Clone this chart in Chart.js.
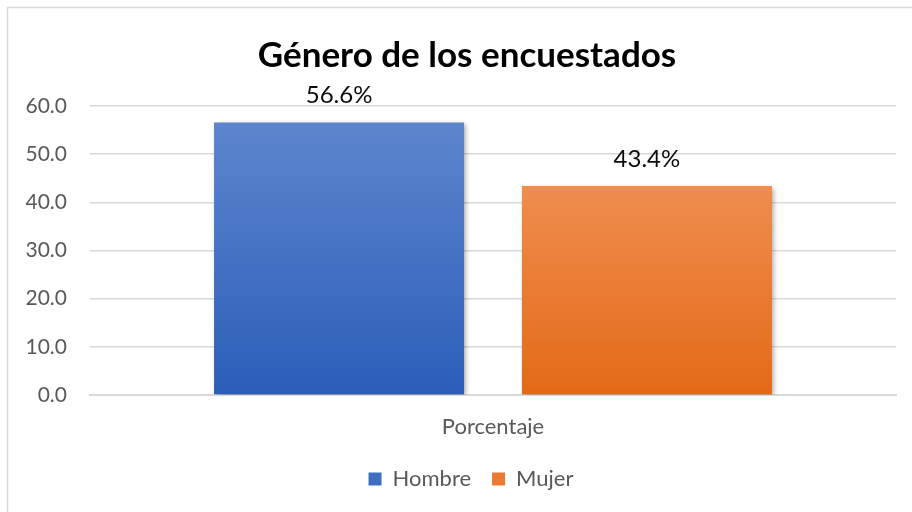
<!DOCTYPE html>
<html><head><meta charset="utf-8">
<script src="https://cdn.jsdelivr.net/npm/chart.js@4/dist/chart.umd.min.js"></script>
<style>html,body{margin:0;padding:0;background:#fff;}#wrap{width:912px;height:512px;position:relative;}</style>
</head><body><div id="wrap"><canvas id="c" width="912" height="512"></canvas></div>
<script>
const titleText = "Género de los encuestados";
const categories = ["Porcentaje"];
const seriesNames = ["Hombre", "Mujer"];
const hombre = [56.6];
const mujer = [43.4];
const yTicks = [0, 10, 20, 30, 40, 50, 60];

const FONT = "Lato, 'Open Sans', sans-serif";

function grad(ctx, area, top, bottom) {
  const g = ctx.createLinearGradient(0, area.top, 0, area.bottom);
  g.addColorStop(0, top);
  g.addColorStop(1, bottom);
  return g;
}

const borderPlugin = {
  id: 'borderFrame',
  afterLayout(chart) {
    // the original chart object is wider than the visible window: shift legend centre
    if (chart.legend) { chart.legend.left += 23; chart.legend.right += 23; }
  },
  beforeDraw(chart) {
    const c = chart.ctx;
    c.save();
    c.fillStyle = '#fff';
    c.fillRect(0, 0, chart.width, chart.height);
    c.strokeStyle = '#d9d9d9';
    c.lineWidth = 1.5;
    c.beginPath();
    c.moveTo(7.5, chart.height + 5);
    c.lineTo(7.5, 7.5);
    c.lineTo(chart.width + 5, 7.5);
    c.stroke();
    c.font = "bold 35px " + FONT;
    c.fillStyle = '#000';
    c.textAlign = 'center';
    c.textBaseline = 'middle';
    c.fillText(titleText, 467, 56);
    c.restore();
  }
};

const shadowPlugin = {
  id: 'barShadow',
  beforeDatasetsDraw(chart) {
    const c = chart.ctx;
    c.save();
    c.shadowColor = 'rgba(0,0,0,0.35)';
    c.shadowBlur = 5;
    c.shadowOffsetX = 2;
    c.shadowOffsetY = 2;
  },
  afterDatasetsDraw(chart) {
    chart.ctx.restore();
  }
};

const labelPlugin = {
  id: 'valueLabels',
  afterDatasetsDraw(chart) {
    const c = chart.ctx;
    c.save();
    c.font = "24px " + FONT;
    c.fillStyle = '#0d0d0d';
    c.textAlign = 'center';
    c.textBaseline = 'middle';
    chart.data.datasets.forEach((ds, i) => {
      const meta = chart.getDatasetMeta(i);
      meta.data.forEach((bar, j) => {
        c.fillText(ds.data[j].toFixed(1) + '%', bar.x, bar.y - 27);
      });
    });
    c.restore();
  }
};

new Chart(document.getElementById('c'), {
  type: 'bar',
  data: {
    labels: categories,
    datasets: [
      { label: seriesNames[0], data: hombre,
        backgroundColor: (ctx) => { const a = ctx.chart.chartArea; return a ? grad(ctx.chart.ctx, a, '#6088CF', '#2C5DB8') : '#4472C4'; } },
      { label: seriesNames[1], data: mujer,
        backgroundColor: (ctx) => { const a = ctx.chart.chartArea; return a ? grad(ctx.chart.ctx, a, '#F49A64', '#E36A17') : '#ED7D31'; } }
    ]
  },
  options: {
    responsive: false,
    animation: false,
    devicePixelRatio: 1,
    layout: { padding: { left: 0, right: 16, top: 106, bottom: 12 } },
    datasets: { bar: { categoryPercentage: 0.764, barPercentage: 0.812 } },
    plugins: {
      title: { display: false },
      legend: { position: 'bottom',
        labels: { color: '#595959', font: { family: FONT, size: 22 },
          boxWidth: 13, boxHeight: 13, padding: 21,
          generateLabels(chart) {
            return chart.data.datasets.map((ds, i) => ({
              text: ds.label,
              fillStyle: i === 0 ? '#3F6DC0' : '#EC7A33',
              strokeStyle: 'rgba(0,0,0,0)', lineWidth: 0, datasetIndex: i, hidden: false,
              fontColor: '#595959'
            }));
          } } },
      tooltip: { enabled: false }
    },
    scales: {
      x: {
        grid: { display: false, drawTicks: false },
        border: { display: true, color: '#d9d9d9', width: 2 },
        ticks: { color: '#595959', font: { family: FONT, size: 22 }, padding: 19 },
        afterFit(s) { s.height = 52; }
      },
      y: {
        min: 0, max: 60,
        afterBuildTicks(s) { s.ticks = yTicks.map(v => ({ value: v })); },
        grid: { color: '#d9d9d9', lineWidth: 1.5, drawTicks: false },
        border: { display: false },
        ticks: { color: '#595959', font: { family: FONT, size: 21 }, padding: 23,
          callback: (v) => Number(v).toFixed(1) },
        afterFit(s) { s.width = 90; }
      }
    }
  },
  plugins: [borderPlugin, shadowPlugin, labelPlugin]
});
</script></body></html>
